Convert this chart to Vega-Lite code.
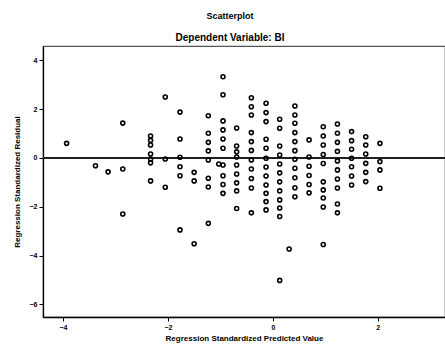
{
  "$schema": "https://vega.github.io/schema/vega-lite/v6.json",
  "width": 402,
  "height": 271,
  "autosize": "none",
  "padding": {"left": 43, "top": 46, "right": 0, "bottom": 36},
  "background": "white",
  "title": {
    "text": "Scatterplot",
    "subtitle": "Dependent Variable: BI",
    "font": "Liberation Sans",
    "subtitleFont": "Liberation Sans",
    "fontSize": 9,
    "subtitleFontSize": 10,
    "fontWeight": "bold",
    "subtitleFontWeight": "bold",
    "color": "black",
    "subtitleColor": "black",
    "anchor": "middle",
    "dx": -14,
    "offset": 3,
    "subtitlePadding": 12
  },
  "config": {
    "view": {"stroke": "#555", "strokeWidth": 1.2},
    "axis": {
      "labelFont": "Liberation Sans",
      "titleFont": "Liberation Sans",
      "labelFontSize": 7,
      "labelFontWeight": "bold",
      "titleFontSize": 8,
      "titleFontWeight": "bold",
      "labelColor": "black",
      "titleColor": "black",
      "domainColor": "black",
      "domainWidth": 1.3,
      "tickColor": "black",
      "tickSize": 4,
      "grid": false
    }
  },
  "data": {
    "values": [
      {"pred": -3.93, "resid": 0.6},
      {"pred": -3.38, "resid": -0.32},
      {"pred": -3.14, "resid": -0.57},
      {"pred": -2.86, "resid": 1.43},
      {"pred": -2.86, "resid": -0.45},
      {"pred": -2.86, "resid": -2.3},
      {"pred": -2.33, "resid": 0.9},
      {"pred": -2.33, "resid": 0.72},
      {"pred": -2.33, "resid": 0.53},
      {"pred": -2.33, "resid": 0.16},
      {"pred": -2.33, "resid": -0.04},
      {"pred": -2.33, "resid": -0.2},
      {"pred": -2.33, "resid": -0.94},
      {"pred": -2.05, "resid": 2.5},
      {"pred": -2.05, "resid": -0.04},
      {"pred": -2.05, "resid": -1.2},
      {"pred": -1.77, "resid": 1.88},
      {"pred": -1.77, "resid": 0.78},
      {"pred": -1.77, "resid": 0.03},
      {"pred": -1.77, "resid": -0.36},
      {"pred": -1.77, "resid": -0.73},
      {"pred": -1.77, "resid": -2.95},
      {"pred": -1.5, "resid": -0.59},
      {"pred": -1.5, "resid": -0.94},
      {"pred": -1.5, "resid": -3.52},
      {"pred": -1.23, "resid": 1.73},
      {"pred": -1.23, "resid": 1.01},
      {"pred": -1.23, "resid": 0.64},
      {"pred": -1.23, "resid": 0.29},
      {"pred": -1.23, "resid": -0.08},
      {"pred": -1.23, "resid": -0.83},
      {"pred": -1.23, "resid": -1.19},
      {"pred": -1.23, "resid": -2.68},
      {"pred": -1.03, "resid": -0.25},
      {"pred": -0.95, "resid": 3.33},
      {"pred": -0.95, "resid": 2.59},
      {"pred": -0.95, "resid": 1.52},
      {"pred": -0.95, "resid": 1.15},
      {"pred": -0.95, "resid": 0.78},
      {"pred": -0.95, "resid": 0.4},
      {"pred": -0.95, "resid": -0.29},
      {"pred": -0.95, "resid": -0.73},
      {"pred": -0.95, "resid": -1.09},
      {"pred": -0.95, "resid": -1.45},
      {"pred": -0.69, "resid": 1.23},
      {"pred": -0.69, "resid": 0.49},
      {"pred": -0.69, "resid": 0.25},
      {"pred": -0.69, "resid": 0.04},
      {"pred": -0.69, "resid": -0.29},
      {"pred": -0.69, "resid": -0.66},
      {"pred": -0.69, "resid": -1.02},
      {"pred": -0.69, "resid": -1.35},
      {"pred": -0.69, "resid": -2.07},
      {"pred": -0.41, "resid": 2.47},
      {"pred": -0.41, "resid": 2.1},
      {"pred": -0.41, "resid": 1.76},
      {"pred": -0.41, "resid": 1.04},
      {"pred": -0.41, "resid": 0.67},
      {"pred": -0.41, "resid": 0.31},
      {"pred": -0.41, "resid": -0.08},
      {"pred": -0.41, "resid": -0.45},
      {"pred": -0.41, "resid": -0.84},
      {"pred": -0.41, "resid": -1.23},
      {"pred": -0.41, "resid": -2.25},
      {"pred": -0.13, "resid": 2.24},
      {"pred": -0.13, "resid": 1.86},
      {"pred": -0.13, "resid": 1.49},
      {"pred": -0.13, "resid": 0.77},
      {"pred": -0.13, "resid": 0.4},
      {"pred": -0.13, "resid": -0.01},
      {"pred": -0.13, "resid": -0.37},
      {"pred": -0.13, "resid": -0.74},
      {"pred": -0.13, "resid": -1.11},
      {"pred": -0.13, "resid": -1.45},
      {"pred": -0.13, "resid": -1.79},
      {"pred": -0.13, "resid": -2.13},
      {"pred": 0.13, "resid": 1.59},
      {"pred": 0.13, "resid": 1.22},
      {"pred": 0.13, "resid": 0.49},
      {"pred": 0.13, "resid": 0.12},
      {"pred": 0.13, "resid": -0.25},
      {"pred": 0.13, "resid": -0.61},
      {"pred": 0.13, "resid": -0.98},
      {"pred": 0.13, "resid": -1.35},
      {"pred": 0.13, "resid": -1.72},
      {"pred": 0.13, "resid": -2.05},
      {"pred": 0.13, "resid": -2.4},
      {"pred": 0.13, "resid": -5.02},
      {"pred": 0.31, "resid": -3.73},
      {"pred": 0.42, "resid": 2.13},
      {"pred": 0.42, "resid": 1.76},
      {"pred": 0.42, "resid": 1.42},
      {"pred": 0.42, "resid": 1.04},
      {"pred": 0.42, "resid": 0.67},
      {"pred": 0.42, "resid": 0.3},
      {"pred": 0.42, "resid": -0.05},
      {"pred": 0.42, "resid": -0.42},
      {"pred": 0.42, "resid": -0.81},
      {"pred": 0.42, "resid": -1.22},
      {"pred": 0.42, "resid": -1.59},
      {"pred": 0.69, "resid": 0.74},
      {"pred": 0.69, "resid": 0.04},
      {"pred": 0.69, "resid": -0.34},
      {"pred": 0.69, "resid": -0.72},
      {"pred": 0.69, "resid": -1.09},
      {"pred": 0.69, "resid": -1.43},
      {"pred": 0.96, "resid": 1.28},
      {"pred": 0.96, "resid": 0.9},
      {"pred": 0.96, "resid": 0.53},
      {"pred": 0.96, "resid": 0.14},
      {"pred": 0.96, "resid": -0.23},
      {"pred": 0.96, "resid": -0.98},
      {"pred": 0.96, "resid": -1.31},
      {"pred": 0.96, "resid": -1.64},
      {"pred": 0.96, "resid": -2.01},
      {"pred": 0.96, "resid": -3.55},
      {"pred": 1.23, "resid": 1.39},
      {"pred": 1.23, "resid": 1.01},
      {"pred": 1.23, "resid": 0.64},
      {"pred": 1.23, "resid": 0.27},
      {"pred": 1.23, "resid": -0.12},
      {"pred": 1.23, "resid": -0.49},
      {"pred": 1.23, "resid": -0.86},
      {"pred": 1.23, "resid": -1.23},
      {"pred": 1.23, "resid": -1.89},
      {"pred": 1.23, "resid": -2.25},
      {"pred": 1.5, "resid": 1.08},
      {"pred": 1.5, "resid": 0.71},
      {"pred": 1.5, "resid": 0.36},
      {"pred": 1.5, "resid": -0.01},
      {"pred": 1.5, "resid": -0.36},
      {"pred": 1.5, "resid": -0.74},
      {"pred": 1.5, "resid": -1.11},
      {"pred": 1.77, "resid": 0.87},
      {"pred": 1.77, "resid": 0.53},
      {"pred": 1.77, "resid": 0.16},
      {"pred": 1.77, "resid": -0.22},
      {"pred": 1.77, "resid": -0.59},
      {"pred": 1.77, "resid": -0.97},
      {"pred": 2.04, "resid": 0.6},
      {"pred": 2.04, "resid": -0.15},
      {"pred": 2.04, "resid": -0.49},
      {"pred": 2.04, "resid": -1.24}
    ]
  },
  "layer": [
    {
      "mark": {"type": "rule", "color": "#222", "strokeWidth": 1.5},
      "encoding": {"y": {"datum": 0, "type": "quantitative"}}
    },
    {
      "mark": {"type": "point", "shape": "circle", "filled": false, "color": "black", "strokeWidth": 1.6, "size": 16, "opacity": 1},
      "encoding": {
        "x": {
          "field": "pred",
          "type": "quantitative",
          "scale": {"domain": [-4.38, 3.28], "nice": false, "zero": false},
          "axis": {"values": [-4, -2, 0, 2], "title": "Regression Standardized Predicted Value", "titlePadding": 4, "labelPadding": 2}
        },
        "y": {
          "field": "resid",
          "type": "quantitative",
          "scale": {"domain": [-6.52, 4.59], "nice": false, "zero": false},
          "axis": {"values": [-6, -4, -2, 0, 2, 4], "title": "Regression Standardized Residual", "titlePadding": 8, "labelPadding": 2}
        }
      }
    }
  ]
}
